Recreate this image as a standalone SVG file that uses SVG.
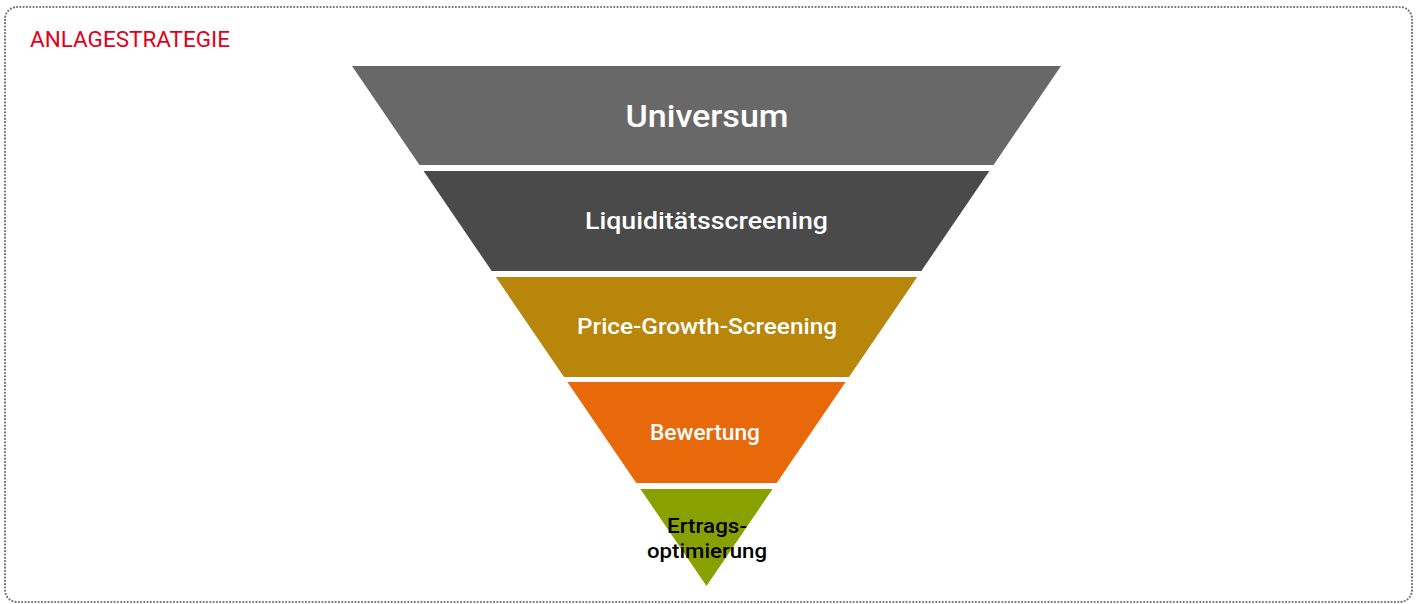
<svg xmlns="http://www.w3.org/2000/svg" width="1416" height="604" viewBox="0 0 1416 604">
  <style>
    .lbl { font-family: Roboto, "Liberation Sans", sans-serif; font-weight: 500; fill: #ffffff; text-anchor: middle; }
    .dark { fill: #000000; }
    .title { font-family: Roboto, "Liberation Sans", sans-serif; font-size: 22px; fill: #e2001a; }
  </style>
  <rect x="5" y="7" width="1407" height="595" rx="12" ry="12" fill="#ffffff" stroke="#707070" stroke-width="2.2" stroke-dasharray="0 3.3" stroke-linecap="round"/>
  <text class="title" x="30" y="47" textLength="200" lengthAdjust="spacingAndGlyphs">ANLAGESTRATEGIE</text>
  <g id="universum">
    <polygon points="352,66 1061,66 993.5,165 419.5,165" fill="#686868"/>
    <text class="lbl" x="707" y="127" font-size="32" textLength="163" lengthAdjust="spacingAndGlyphs">Universum</text>
  </g>
  <g id="liquiditaet">
    <polygon points="423.6,171 989.4,171 921.3,271 491.7,271" fill="#4a4a4a"/>
    <text class="lbl" x="706.5" y="229" font-size="24" textLength="243" lengthAdjust="spacingAndGlyphs">Liquiditätsscreening</text>
  </g>
  <g id="pricegrowth">
    <polygon points="495.8,277 917.2,277 849,377 564,377" fill="#b8860b"/>
    <text class="lbl" x="707" y="334" font-size="22" textLength="260" lengthAdjust="spacingAndGlyphs">Price-Growth-Screening</text>
  </g>
  <g id="bewertung">
    <polygon points="567.4,382 845.6,382 776.7,483 636.3,483" fill="#e8690a"/>
    <text class="lbl" x="705" y="440" font-size="22" textLength="110" lengthAdjust="spacingAndGlyphs">Bewertung</text>
  </g>
  <g id="ertrag">
    <polygon points="640.4,489 772.6,489 706.5,586" fill="#88a000"/>
    <text class="lbl dark" x="707" y="533" font-size="20" textLength="80" lengthAdjust="spacingAndGlyphs">Ertrags-</text>
    <text class="lbl dark" x="707" y="558" font-size="20" textLength="120" lengthAdjust="spacingAndGlyphs">optimierung</text>
  </g>
  <g id="connectors"></g>
</svg>
